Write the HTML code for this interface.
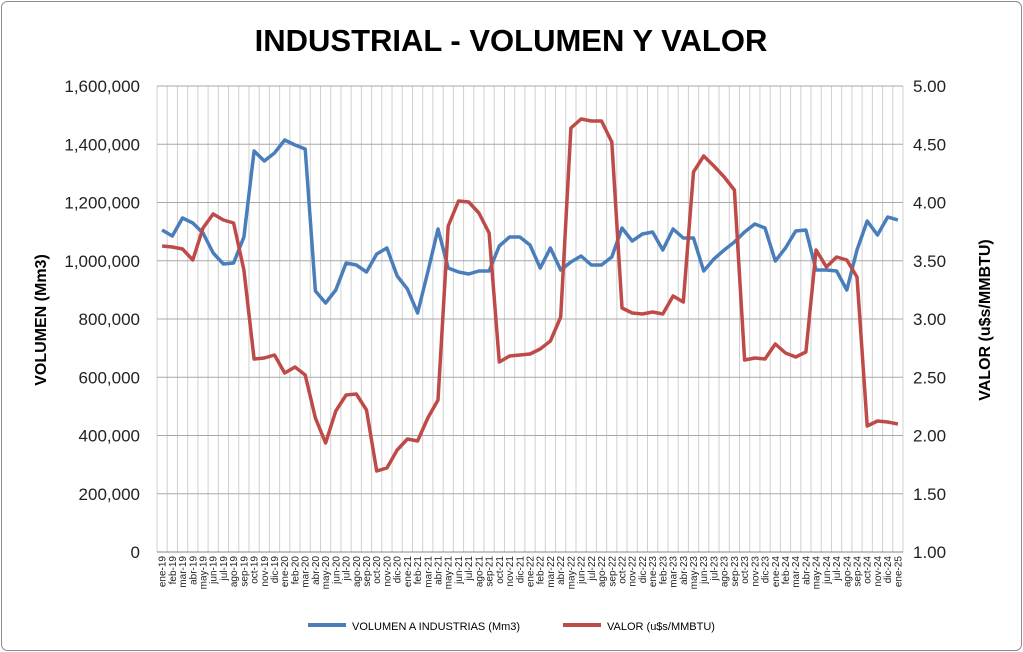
<!DOCTYPE html><html><head><meta charset="utf-8"><style>
html,body{margin:0;padding:0;background:#fff;}
svg{display:block;font-family:"Liberation Sans",sans-serif;}
</style></head><body>
<svg id="c" width="1023" height="652" xmlns="http://www.w3.org/2000/svg">
<rect x="1.5" y="1.5" width="1020" height="649" rx="6" fill="#fff" stroke="#8c8c8c" stroke-width="1"/>
<text x="511" y="51" text-anchor="middle" font-size="31" font-weight="bold" fill="#000">INDUSTRIAL - VOLUMEN Y VALOR</text>
<g id="grid"></g>
<g id="lbl"></g>
<text transform="translate(46,320) rotate(-90)" text-anchor="middle" font-size="16" font-weight="bold">VOLUMEN (Mm3)</text>
<text transform="translate(990,320) rotate(-90)" text-anchor="middle" font-size="16" font-weight="bold">VALOR (u$s/MMBTU)</text>
<line x1="308" y1="625" x2="346" y2="625" stroke="#4a7ebb" stroke-width="4"/>
<text x="352" y="630" font-size="11">VOLUMEN A INDUSTRIAS (Mm3)</text>
<line x1="563" y1="625" x2="601" y2="625" stroke="#be4b48" stroke-width="4"/>
<text x="607" y="630" font-size="11">VALOR (u$s/MMBTU)</text>
</svg>
<script>
var ns="http://www.w3.org/2000/svg",L=157,R=903,T=86,B=552,n=73,w=(R-L)/n;
var g=document.getElementById('grid'),lb=document.getElementById('lbl'),s='';
for(var i=0;i<=n;i++){var x=L+w*i;s+='<line x1="'+x+'" y1="'+T+'" x2="'+x+'" y2="'+B+'" stroke="#d0d0d0" stroke-width="1"/>';}
var yl=['0','200,000','400,000','600,000','800,000','1,000,000','1,200,000','1,400,000','1,600,000'];
var yr=['1.00','1.50','2.00','2.50','3.00','3.50','4.00','4.50','5.00'];
var t='';
for(var k=0;k<=8;k++){var y=B-(B-T)*k/8;s+='<line x1="'+L+'" y1="'+y+'" x2="'+R+'" y2="'+y+'" stroke="#a8a8a8" stroke-width="1"/>';
t+='<text x="140" y="'+(y+6)+'" text-anchor="end" font-size="17" fill="#222">'+yl[k]+'</text>';
t+='<text x="913" y="'+(y+6)+'" font-size="17" fill="#222">'+yr[k]+'</text>';}
s+='<line x1="'+L+'" y1="'+B+'" x2="'+R+'" y2="'+B+'" stroke="#888"/>';
var m=['ene','feb','mar','abr','may','jun','jul','ago','sep','oct','nov','dic'];
for(var i=0;i<n;i++){var x=L+w*(i+0.5),lab=m[i%12]+'-'+(19+Math.floor(i/12));
t+='<text transform="translate('+(x+3.5)+',556) rotate(-90)" text-anchor="end" font-size="10" fill="#222">'+lab+'</text>';}
var blue=[230,236,218,223,233,253,264,263,237,151,161,153,140,145,149,291,303,290,263,265,272,254,248,276,289,313,272,229,268,272,274,271,271,246,237,237,245,268,248,270,262,256,265,265,257,228,241,234,232,250,229,238,238,271,259,250,242,232,224,228,261,248,231,230,270,270,271,290,250,221,235,217,220];
var red=[246,247,249,260,228,214,220,223,270,359,358,355,373,367,375,418,443,411,395,394,410,471,468,450,439,441,418,400,226,201,202,213,233,362,356,355,354,349,341,317,128,119,121,121,142,308,313,314,312,314,296,302,172,156,166,177,190,360,358,359,344,353,357,352,250,267,257,260,277,426,421,422,424];
function pl(a,c){var p=a.map(function(y,i){return (L+w*(i+0.5)).toFixed(1)+','+y}).join(' ');return '<polyline points="'+p+'" fill="none" stroke="'+c+'" stroke-width="3.5" stroke-linejoin="round"/>';}
s+=pl(blue,'#4a7ebb')+pl(red,'#be4b48');
g.innerHTML=s;lb.innerHTML=t;
</script>
</body></html>
